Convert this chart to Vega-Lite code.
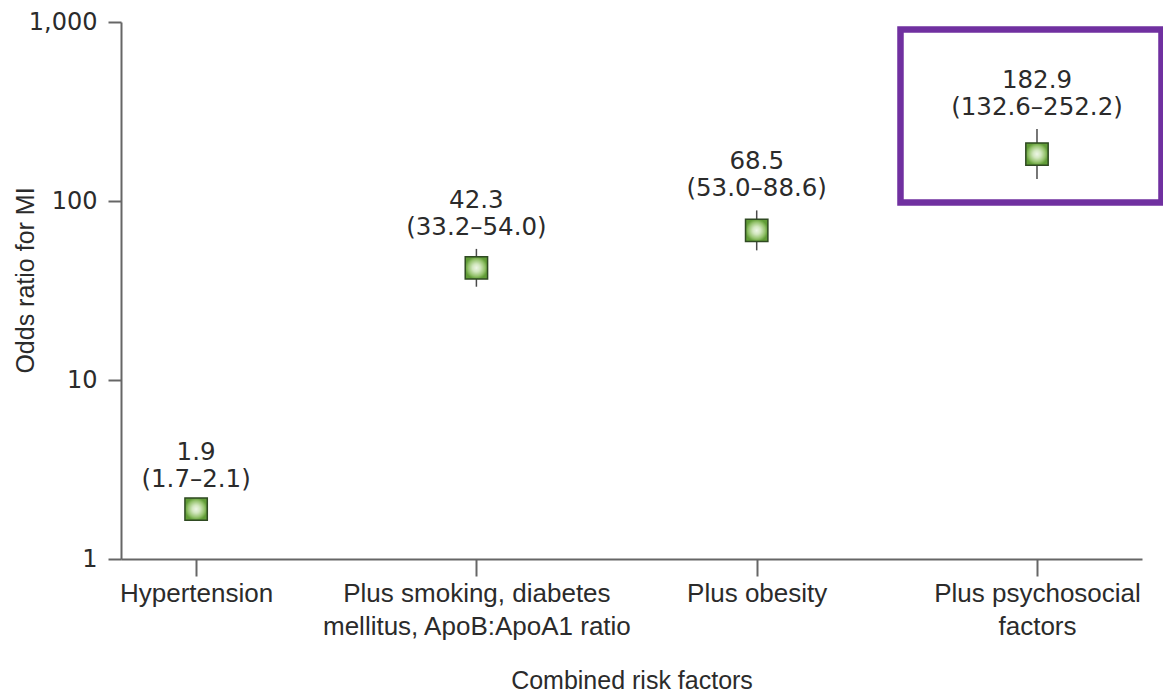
{
  "$schema": "https://vega.github.io/schema/vega-lite/v6.json",
  "width": 1021,
  "height": 537,
  "autosize": {"type": "none"},
  "padding": {"left": 121, "top": 22, "right": 21, "bottom": 138},
  "background": "white",
  "config": {
    "view": {"stroke": null},
    "font": "Liberation Sans"
  },
  "data": {
    "values": [
      {"factor": "Hypertension", "or": 1.9, "lo": 1.7, "hi": 2.1},
      {"factor": "Plus smoking, diabetes mellitus, ApoB:ApoA1 ratio", "or": 42.3, "lo": 33.2, "hi": 54.0},
      {"factor": "Plus obesity", "or": 68.5, "lo": 53.0, "hi": 88.6},
      {"factor": "Plus psychosocial factors", "or": 182.9, "lo": 132.6, "hi": 252.2}
    ]
  },
  "encoding": {
    "x": {
      "field": "factor",
      "type": "nominal",
      "scale": {
        "type": "point",
        "domain": [
          "Hypertension",
          "Plus smoking, diabetes mellitus, ApoB:ApoA1 ratio",
          "Plus obesity",
          "Plus psychosocial factors"
        ],
        "padding": 0.3213,
        "align": 0.417
      },
      "axis": {
        "title": "Combined risk factors",
        "titleFont": "Liberation Sans",
        "titleFontSize": 25,
        "titleFontWeight": "normal",
        "titleColor": "#2b2b2b",
        "titlePadding": 29,
        "labelAngle": 0,
        "labelFont": "Liberation Sans",
        "labelFontSize": 26,
        "labelColor": "#2b2b2b",
        "labelLineHeight": 33,
        "labelPadding": 4,
        "labelLimit": 0,
        "labelExpr": "datum.label == 'Plus smoking, diabetes mellitus, ApoB:ApoA1 ratio' ? ['Plus smoking, diabetes', 'mellitus, ApoB:ApoA1 ratio'] : datum.label == 'Plus psychosocial factors' ? ['Plus psychosocial', 'factors'] : datum.label",
        "domainColor": "#666666",
        "domainWidth": 2,
        "tickColor": "#666666",
        "tickWidth": 2,
        "tickSize": 17,
        "grid": false
      }
    }
  },
  "layer": [
    {
      "mark": {"type": "bar", "width": 261, "xOffset": -6, "fillOpacity": 0, "stroke": "#7030a0", "strokeWidth": 6.5},
      "transform": [{"filter": "datum.factor == 'Plus psychosocial factors'"}],
      "encoding": {
        "y": {"datum": 98, "type": "quantitative"},
        "y2": {"datum": 908}
      }
    },
    {
      "mark": {"type": "rule", "color": "#4a4a4a", "strokeWidth": 1.5},
      "encoding": {
        "y": {
          "field": "lo",
          "type": "quantitative",
          "scale": {"type": "log", "domain": [1, 1000]},
          "axis": {
            "title": "Odds ratio for MI",
            "titleFont": "Liberation Sans",
            "titleFontSize": 25,
            "titleFontWeight": "normal",
            "titleColor": "#2b2b2b",
            "titleAngle": -90,
            "titleAlign": "center",
            "titleBaseline": "middle",
            "titleX": -96,
            "titleY": 258,
            "values": [1, 10, 100, 1000],
            "format": ",",
            "labelFont": "DejaVu Sans",
            "labelFontSize": 24,
            "labelColor": "#2b2b2b",
            "labelPadding": 11,
            "domainColor": "#666666",
            "domainWidth": 2,
            "tickColor": "#666666",
            "tickWidth": 2,
            "tickSize": 13,
            "grid": false
          }
        },
        "y2": {"field": "hi"}
      }
    },
    {
      "mark": {
        "type": "point",
        "shape": "square",
        "size": 500,
        "filled": true,
        "opacity": 1,
        "fill": {
          "gradient": "radial",
          "stops": [
            {"offset": 0, "color": "#eef6e7"},
            {"offset": 0.35, "color": "#d2e7bf"},
            {"offset": 0.75, "color": "#94c26c"},
            {"offset": 1, "color": "#609c36"}
          ]
        },
        "stroke": "#2f4a22",
        "strokeWidth": 1.5
      },
      "encoding": {
        "y": {"field": "or", "type": "quantitative"}
      }
    },
    {
      "transform": [
        {
          "calculate": "[format(datum.or, '.1f'), '(' + format(datum.lo, '.1f') + '–' + format(datum.hi, '.1f') + ')']",
          "as": "label"
        }
      ],
      "mark": {
        "type": "text",
        "baseline": "bottom",
        "align": "center",
        "dy": -36,
        "font": "DejaVu Sans",
        "fontSize": 24.5,
        "lineHeight": 27,
        "color": "#2b2b2b"
      },
      "encoding": {
        "y": {"field": "hi", "type": "quantitative"},
        "text": {"field": "label"}
      }
    }
  ]
}
